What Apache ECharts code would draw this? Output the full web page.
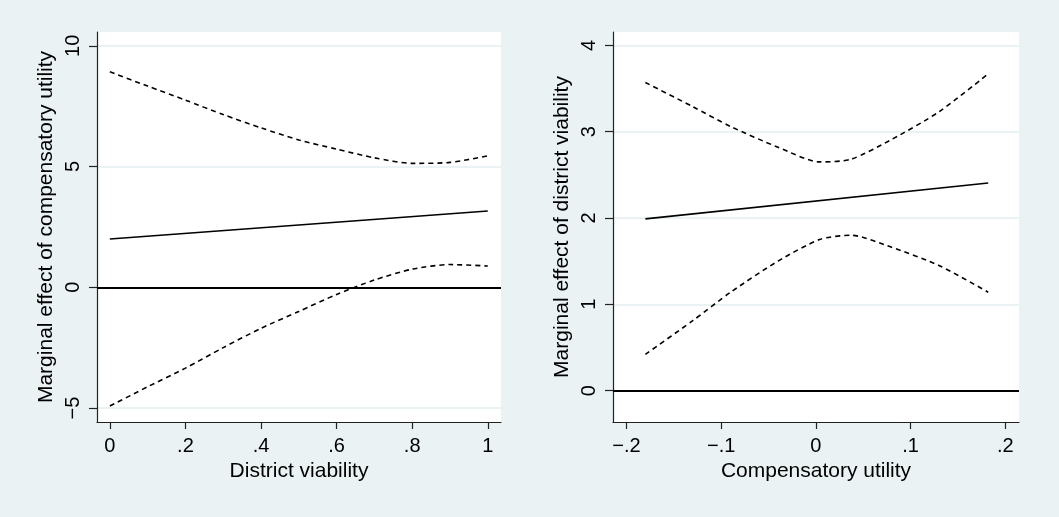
<!DOCTYPE html>
<html>
<head>
<meta charset="utf-8">
<script src="https://cdn.jsdelivr.net/npm/echarts@6/dist/echarts.min.js"></script>
<style>
html,body{margin:0;padding:0;background:#EAF2F3;}
#c{width:1059px;height:517px;}
</style>
</head>
<body>
<div id="c"></div>
<script>
// Left panel: marginal effect of compensatory utility vs district viability
const dvX = [0, 0.1, 0.2, 0.3, 0.4, 0.5, 0.6, 0.7, 0.8, 0.9, 1.0];
const dvUpper = [8.92, 8.33, 7.75, 7.15, 6.60, 6.10, 5.72, 5.36, 5.13, 5.17, 5.44];
const dvLower = [-4.92, -4.12, -3.35, -2.50, -1.70, -1.00, -0.30, 0.30, 0.75, 0.94, 0.88];
const dvCenterX = [0, 1];
const dvCenter = [2.0, 3.16];
const leftXTicks = [0, 0.2, 0.4, 0.6, 0.8, 1];
const leftXLabels = ['0', '.2', '.4', '.6', '.8', '1'];
const leftYTicks = [-5, 0, 5, 10];
const leftYLabels = ['\u22125', '0', '5', '10'];

// Right panel: marginal effect of district viability vs compensatory utility
const cuX = [-0.18, -0.13, -0.09, -0.04, 0.004, 0.037, 0.08, 0.13, 0.182];
const cuUpper = [3.57, 3.29, 3.06, 2.82, 2.65, 2.68, 2.91, 3.23, 3.67];
const cuLower = [0.42, 0.81, 1.14, 1.50, 1.75, 1.80, 1.66, 1.45, 1.14];
const cuCenterX = [-0.18, 0.182];
const cuCenter = [1.99, 2.405];
const rightXTicks = [-0.2, -0.1, 0, 0.1, 0.2];
const rightXLabels = ['\u2212.2', '\u2212.1', '0', '.1', '.2'];
const rightYTicks = [0, 1, 2, 3, 4];
const rightYLabels = ['0', '1', '2', '3', '4'];

const FONT = 'Liberation Sans, Arial, sans-serif';
const BG = '#EAF2F3';
const AXIS = '#222';

function zip(xs, ys) { return xs.map((x, i) => [x, ys[i]]); }
function labelFor(ticks, labels) {
  return v => {
    for (let i = 0; i < ticks.length; i++) if (Math.abs(ticks[i] - v) < 1e-9) return labels[i];
    return '';
  };
}
function xAxisDef(idx, min, max, ticks, labels, name) {
  return {
    type: 'value', gridIndex: idx, min: min, max: max,
    name: name, nameLocation: 'middle', nameGap: 35,
    nameTextStyle: { fontFamily: FONT, fontSize: 21, color: '#000' },
    axisLine: { show: true, onZero: false, lineStyle: { color: AXIS, width: 1.2 } },
    axisTick: { show: true, inside: false, length: 7, customValues: ticks, lineStyle: { color: AXIS, width: 1.2 } },
    axisLabel: { customValues: ticks, formatter: labelFor(ticks, labels), fontFamily: FONT, fontSize: 20, color: '#000', margin: 14 },
    splitLine: { show: false }
  };
}
function yAxisDef(idx, min, max, ticks, labels, name) {
  return {
    type: 'value', gridIndex: idx, min: min, max: max,
    name: name, nameLocation: 'middle', nameGap: 40,
    nameTextStyle: { fontFamily: FONT, fontSize: 21, color: '#000' },
    axisLine: { show: true, onZero: false, lineStyle: { color: AXIS, width: 1.2 } },
    axisTick: { show: true, inside: false, length: 8, customValues: ticks, lineStyle: { color: AXIS, width: 1.2 } },
    axisLabel: { customValues: ticks, formatter: labelFor(ticks, labels), rotate: 90, fontFamily: FONT, fontSize: 20, color: '#000', margin: 14 },
    splitLine: { show: true, lineStyle: { color: BG, width: 2 } }
  };
}
function ciSeries(idx, data) {
  return {
    type: 'line', xAxisIndex: idx, yAxisIndex: idx, data: data,
    showSymbol: false, symbol: 'none', smooth: 0.25, silent: true,
    lineStyle: { color: '#000', width: 1.6, type: [5, 4] }, z: 3
  };
}
function centerSeries(idx, data) {
  return {
    type: 'line', xAxisIndex: idx, yAxisIndex: idx, data: data,
    showSymbol: false, symbol: 'none', silent: true,
    lineStyle: { color: '#000', width: 1.6, type: 'solid' }, z: 3,
    markLine: {
      silent: true, symbol: 'none', label: { show: false },
      lineStyle: { color: '#000', width: 1.8, type: 'solid' },
      data: [{ yAxis: 0 }]
    }
  };
}

const chart = echarts.init(document.getElementById('c'), null, { renderer: 'canvas' });
chart.setOption({
  backgroundColor: BG,
  animation: false,
  grid: [
    { left: 97, top: 32, width: 404, height: 390, show: true, backgroundColor: '#fff', borderWidth: 0 },
    { left: 613, top: 32, width: 406, height: 390, show: true, backgroundColor: '#fff', borderWidth: 0 }
  ],
  xAxis: [
    xAxisDef(0, -0.034, 1.035, leftXTicks, leftXLabels, 'District viability'),
    xAxisDef(1, -0.2142, 0.2145, rightXTicks, rightXLabels, 'Compensatory utility')
  ],
  yAxis: [
    yAxisDef(0, -5.58, 10.57, leftYTicks, leftYLabels, 'Marginal effect of compensatory utility'),
    yAxisDef(1, -0.364, 4.155, rightYTicks, rightYLabels, 'Marginal effect of district viability')
  ],
  series: [
    centerSeries(0, zip(dvCenterX, dvCenter)),
    ciSeries(0, zip(dvX, dvUpper)),
    ciSeries(0, zip(dvX, dvLower)),
    centerSeries(1, zip(cuCenterX, cuCenter)),
    ciSeries(1, zip(cuX, cuUpper)),
    ciSeries(1, zip(cuX, cuLower))
  ]
});
</script>
</body>
</html>
